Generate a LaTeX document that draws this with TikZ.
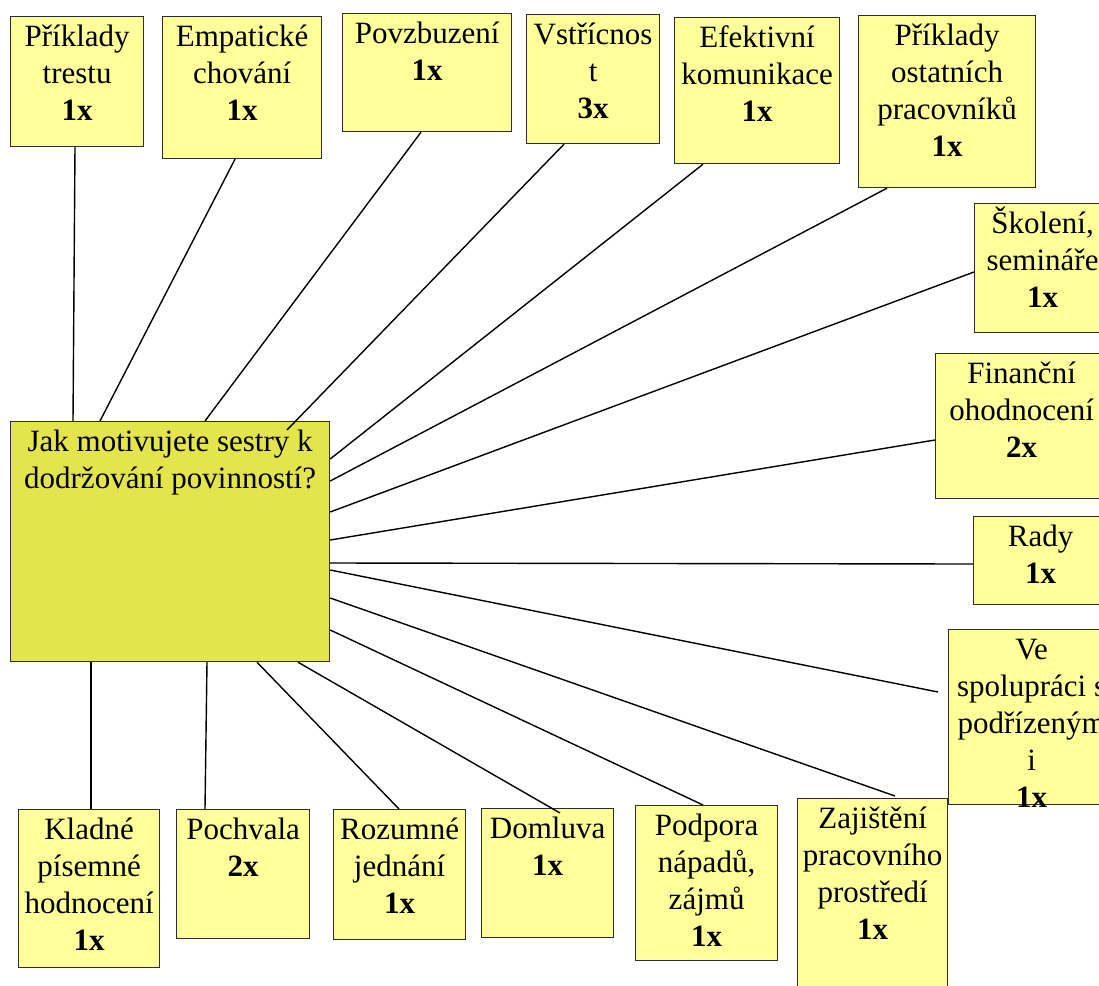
\documentclass[tikz,border=0pt]{standalone}
\usepackage{fontspec}
\setmainfont{Liberation Serif}
\usetikzlibrary{calc}

\definecolor{cardfill}{RGB}{255,255,153}
\definecolor{qfill}{RGB}{228,228,76}
\definecolor{cardline}{RGB}{45,45,45}

\tikzset{
	card/.style={draw=cardline,fill=cardfill,line width=1.2pt,inner sep=0pt,anchor=north west},
	cardtext/.style={anchor=north,inner sep=0pt,align=center,font=\fontsize{31}{37}\selectfont},
	cardlabel/.style={label={[cardtext]north:{\rule{0pt}{30pt}#1}}},
	link/.style={line width=1.4pt,black},
}

\begin{document}
\begin{tikzpicture}[x=1pt,y=-1pt]
		\useasboundingbox (0,0) rectangle (1099,985);
		% question in the middle
		\node[card,fill=qfill,minimum width=319pt,minimum height=240pt,cardlabel={Jak motivujete sestry k\\dodržování povinností?}] (q) at (10,421) {};
		% answers, top row
		\node[card,minimum width=133pt,minimum height=130pt,cardlabel={Příklady\\trestu\\\textbf{1x}}] (trest) at (10,16) {};
		\node[card,minimum width=159pt,minimum height=142pt,cardlabel={Empatické\\chování\\\textbf{1x}}] (empat) at (162,16) {};
		\node[card,minimum width=169pt,minimum height=118pt,cardlabel={Povzbuzení\\\textbf{1x}}] (povzb) at (342,13) {};
		\node[card,minimum width=133pt,minimum height=129pt,cardlabel={Vstřícnos\\t\\\textbf{3x}}] (vstric) at (526,14) {};
		\node[card,minimum width=165pt,minimum height=146pt,cardlabel={Efektivní\\komunikace\\\textbf{1x}}] (efekt) at (674,17) {};
		\node[card,minimum width=177pt,minimum height=172pt,cardlabel={Příklady\\ostatních\\pracovníků\\\textbf{1x}}] (ostat) at (858,15) {};
		% right column
		\node[card,minimum width=136pt,minimum height=129pt,cardlabel={Školení,\\semináře\\\textbf{1x}}] (skol) at (974,203) {};
		\node[card,minimum width=172pt,minimum height=145pt,cardlabel={Finanční\\ohodnocení\\\textbf{2x}}] (financ) at (935,353) {};
		\node[card,minimum width=134pt,minimum height=88pt,cardlabel={Rady\\\textbf{1x}}] (rady) at (973,516) {};
		\node[card,minimum width=166pt,minimum height=175pt,cardlabel={Ve\\spolupráci s\\podřízeným\\i\\\textbf{1x}}] (spolu) at (948,629) {};
		% bottom row
		\node[card,minimum width=141pt,minimum height=158pt,cardlabel={Kladné\\písemné\\hodnocení\\\textbf{1x}}] (klad) at (18,809) {};
		\node[card,minimum width=133pt,minimum height=129pt,cardlabel={Pochvala\\\textbf{2x}}] (pochv) at (176,809) {};
		\node[card,minimum width=132pt,minimum height=130pt,cardlabel={Rozumné\\jednání\\\textbf{1x}}] (rozum) at (333,809) {};
		\node[card,minimum width=132pt,minimum height=129pt,cardlabel={Domluva\\\textbf{1x}}] (doml) at (481,808) {};
		\node[card,minimum width=142pt,minimum height=155pt,cardlabel={Podpora\\nápadů,\\zájmů\\\textbf{1x}}] (podp) at (635,805) {};
		\node[card,minimum width=150pt,minimum height=200pt,cardlabel={Zajištění\\pracovního\\prostředí\\\textbf{1x}}] (zajist) at (797,798) {};

		\draw[link] ($(trest.south west)+(65,0)$) -- ($(q.north west)+(63,0)$);
		\draw[link] ($(empat.south west)+(73,0)$) -- ($(q.north west)+(90,0)$);
		\draw[link] ($(povzb.south west)+(79,0)$) -- ($(q.north west)+(195,0)$);
		\draw[link] ($(vstric.south west)+(38,0)$) -- ($(q.north west)+(277,9)$);
		\draw[link] ($(efekt.south west)+(29,0)$) -- ($(q.north east)+(0,38)$);
		\draw[link] ($(ostat.south west)+(29,0)$) -- ($(q.north east)+(0,60)$);
		\draw[link] ($(skol.north west)+(0,69)$) -- ($(q.north east)+(0,91)$);
		\draw[link] ($(financ.north west)+(0,87)$) -- ($(q.north east)+(0,119)$);
		\draw[link] ($(rady.north west)+(0,48)$) -- ($(q.north east)+(0,142)$);
		\draw[link] ($(spolu.north west)+(-10,63)$) -- ($(q.north east)+(0,149)$);
		\draw[link] ($(zajist.north west)+(98,-2)$) -- ($(q.north east)+(0,177)$);
		\draw[link] ($(podp.north west)+(68,0)$) -- ($(q.north east)+(0,209)$);
		\draw[link] ($(doml.north west)+(79,5)$) -- ($(q.south west)+(288,0)$);
		\draw[link] ($(rozum.north west)+(66,0)$) -- ($(q.south west)+(247,0)$);
		\draw[link] ($(pochv.north west)+(29,0)$) -- ($(q.south west)+(197,0)$);
		\draw[link] ($(klad.north west)+(73,0)$) -- ($(q.south west)+(81,0)$);
	\end{tikzpicture}
\end{document}
